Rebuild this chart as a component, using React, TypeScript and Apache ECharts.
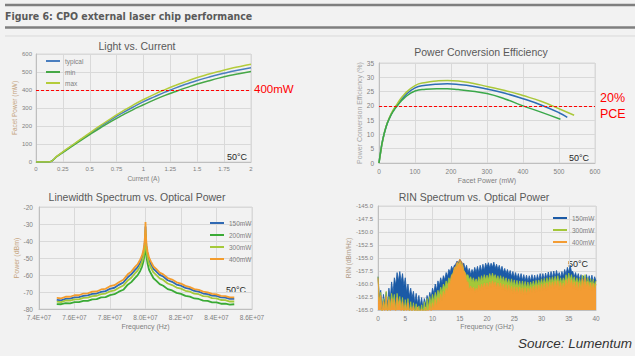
import React, { useEffect, useRef } from 'react';
import * as echarts from 'echarts';

// ---------- Light vs. Current ----------
const LI_CURRENT = [0, 0.05, 0.1, 0.12, 0.2, 0.3, 0.4, 0.5, 0.6, 0.7, 0.8, 0.9, 1.0, 1.1, 1.2, 1.3, 1.4, 1.5, 1.6, 1.7, 1.8, 1.9, 2.0];
const LI_TYPICAL = [0, 0, 0, 0, 34, 76, 117, 158, 198, 236, 271, 304, 335, 362, 388, 412, 433, 453, 470, 486, 500, 513, 524];
const LI_MIN = [0, 0, 0, 0, 33, 73, 113, 152, 190, 226, 259, 290, 318, 345, 370, 392, 413, 433, 450, 466, 480, 492, 503];
const LI_MAX = [0, 0, 0, 0, 35, 78, 120, 162, 203, 243, 280, 315, 347, 376, 402, 426, 448, 469, 487, 503, 518, 531, 543];

// ---------- Power Conversion Efficiency ----------
const PCE_TYP_P = [0, 5, 10, 20, 30, 40, 50, 70, 100, 130, 160, 190, 220, 260, 300, 350, 400, 450, 500, 523];
const PCE_TYP_E = [0, 4.2, 7.8, 12.8, 16.0, 18.4, 20.2, 23.3, 26.3, 27.2, 27.6, 27.7, 27.5, 26.9, 25.9, 24.4, 22.5, 20.3, 17.6, 16.0];
const PCE_MAX_P = [0, 5, 10, 20, 30, 40, 50, 70, 100, 130, 160, 190, 220, 260, 300, 350, 400, 450, 500, 542];
const PCE_MAX_E = [0, 4.1, 7.7, 12.9, 16.2, 18.7, 20.6, 24.0, 27.1, 28.2, 28.7, 28.9, 28.7, 27.9, 26.8, 25.4, 23.6, 21.6, 19.0, 16.7];
const PCE_MIN_P = [0, 5, 10, 20, 30, 40, 50, 70, 100, 130, 160, 190, 220, 260, 300, 350, 400, 450, 504];
const PCE_MIN_E = [0, 4.3, 7.9, 12.8, 15.9, 18.2, 19.9, 22.7, 25.2, 25.8, 26.0, 26.0, 25.7, 25.1, 24.3, 22.4, 20.0, 17.8, 15.3];

// ---------- Linewidth spectrum ----------
const LW_FREQ_MHZ = [75, 75.25, 75.5, 75.75, 76, 76.25, 76.5, 76.75, 77, 77.25, 77.5, 77.75, 78, 78.25, 78.5, 78.75,
  79, 79.2, 79.4, 79.55, 79.7, 79.8, 79.88, 79.94, 79.97, 79.99,
  80,
  80.01, 80.03, 80.06, 80.12, 80.2, 80.3, 80.45, 80.6, 80.8,
  81, 81.25, 81.5, 81.75, 82, 82.25, 82.5, 82.75, 83, 83.25, 83.5, 83.75, 84, 84.25, 84.5, 84.75, 85];
const LW_150 = [-74.6, -74.9, -74.0, -73.9, -73.2, -73.0, -72.3, -72.0, -71.1, -70.9, -69.9, -69.5, -68.1, -67.5, -65.8, -64.4,
  -61.3, -59.6, -57.1, -55.5, -52.8, -50.4, -47.4, -43.5, -39.4, -35.2,
  -31.5,
  -35.6, -40.2, -44.4, -48.0, -51.4, -53.5, -56.4, -57.8, -59.9,
  -60.9, -63.1, -64.0, -65.6, -66.3, -67.6, -68.2, -69.4, -69.8, -70.9, -71.2, -72.1, -72.3, -73.2, -73.3, -74.1, -74.0];
const LW_200 = [-77.1, -77.2, -76.6, -76.7, -76.0, -76.0, -75.2, -75.2, -74.3, -74.2, -73.2, -73.0, -71.8, -71.3, -69.8, -68.7,
  -65.7, -64.2, -61.8, -60.2, -57.6, -55.2, -52.2, -48.3, -44.0, -39.6,
  -36.0,
  -40.4, -45.2, -49.6, -53.4, -56.9, -59.0, -61.9, -63.3, -65.4,
  -66.3, -68.3, -69.1, -70.5, -71.1, -72.3, -72.7, -73.8, -74.1, -75.1, -75.2, -76.1, -76.1, -76.9, -76.8, -77.4, -77.2];
const LW_300 = [-75.6, -75.9, -75.0, -75.1, -74.3, -74.3, -73.4, -73.3, -72.4, -72.2, -71.2, -70.9, -69.6, -69.1, -67.5, -66.2,
  -63.2, -61.6, -59.1, -57.5, -54.8, -52.4, -49.4, -45.5, -41.3, -37.0,
  -33.5,
  -37.5, -42.2, -46.5, -50.1, -53.5, -55.6, -58.5, -59.9, -62.0,
  -62.9, -65.0, -65.9, -67.4, -68.0, -69.3, -69.8, -71.0, -71.3, -72.4, -72.6, -73.6, -73.8, -74.7, -74.8, -75.6, -75.6];
const LW_400 = [-73.5, -73.7, -72.8, -72.8, -71.9, -71.9, -70.9, -70.8, -69.8, -69.7, -68.5, -68.1, -66.6, -66.0, -64.3, -62.8,
  -59.6, -58.0, -55.4, -53.8, -51.0, -48.6, -45.6, -41.6, -37.2, -33.0,
  -28.8,
  -33.2, -38.2, -42.6, -46.4, -49.8, -52.0, -55.0, -56.4, -58.6,
  -59.6, -61.8, -62.7, -64.3, -65.1, -66.4, -67.1, -68.3, -68.8, -69.8, -70.2, -71.1, -71.4, -72.3, -72.4, -73.2, -73.2];

// ---------- RIN spectrum (sampled every 0.25 GHz from 0 to 40 GHz) ----------
const RIN_STEP_GHZ = 0.25;
const RIN_150 = [
  -158.6, -162.5, -161.2, -164.8, -162.0, -163.8, -161.6, -164.0, -160.8,
  -162.8, -159.6, -161.8, -158.8, -160.2, -157.8, -159.4, -157.6,
  -159.6, -158.0, -160.4, -158.8, -161.6, -160.0, -162.4, -160.8,
  -162.6, -161.4, -163.6, -161.8, -163.8, -162.2, -164.2, -162.6,
  -164.6, -162.8, -164.0, -162.2, -163.4, -161.6, -162.6, -160.8,
  -161.8, -160.0, -161.2, -159.4, -160.4, -158.8, -159.8, -158.4,
  -159.2, -157.8, -158.6, -157.2, -157.8, -156.6, -157.2, -156.4,
  -156.2, -155.6, -156.0, -155.3, -155.6, -156.2, -156.0, -157.2,
  -156.4, -157.8, -157.0, -158.2, -157.2, -158.0, -156.8, -157.8,
  -156.6, -157.8, -156.4, -157.6, -156.2, -157.4, -156.0, -156.8,
  -155.9, -156.9, -156.0, -156.8, -155.8, -157.0, -156.2, -157.2,
  -156.4, -157.6, -156.6, -157.8, -157.0, -158.0, -157.2, -158.2,
  -157.4, -158.6, -157.6, -158.8, -157.8, -159.0, -158.0, -159.2,
  -158.0, -159.3, -158.2, -159.4, -158.3, -159.5, -158.4, -159.4,
  -158.2, -159.4, -158.3, -159.5, -158.2, -159.3, -158.0, -159.2,
  -158.0, -159.2, -157.9, -159.0, -157.7, -158.9, -157.6, -158.8,
  -157.5, -158.7, -157.4, -158.5, -157.8, -158.8, -157.6, -158.6,
  -157.2, -158.2, -156.8, -157.8, -156.4, -157.6, -157.6, -158.6,
  -157.8, -158.9, -158.0, -159.2, -158.2, -159.4, -158.4, -159.6,
  -158.2, -159.4, -158.4, -159.6, -158.3, -159.7, -158.6, -159.4,
];
const RIN_300 = [
  -158.6, -163.2, -161.6, -165.5, -162.8, -164.6, -161.4, -165.5, -162.4,
  -164.2, -161.8, -163.6, -162.0, -165.0, -161.8, -163.8, -162.4,
  -164.6, -162.6, -165.5, -163.0, -164.8, -162.8, -165.5, -163.4,
  -165.5, -163.6, -165.5, -163.8, -165.5, -164.2, -165.5, -164.0,
  -165.5, -163.4, -165.5, -162.8, -164.6, -162.4, -163.8, -162.0,
  -163.4, -161.6, -162.8, -161.2, -162.2, -160.6, -161.6, -160.0,
  -160.8, -159.4, -160.2, -158.8, -159.4, -158.2, -158.0, -157.2,
  -156.8, -156.4, -156.0, -155.8, -156.2, -156.6, -157.4, -157.8,
  -158.4, -158.2, -159.2, -158.6, -159.6, -158.8, -159.8, -159.0,
  -159.8, -158.6, -159.6, -158.4, -159.4, -158.2, -159.2, -158.3,
  -159.2, -158.0, -159.0, -157.9, -158.9, -158.2, -159.2, -158.4,
  -159.4, -158.4, -159.6, -158.6, -159.8, -158.8, -160.0, -159.0,
  -160.2, -159.0, -160.4, -159.2, -160.5, -159.3, -160.6, -159.4,
  -160.7, -159.4, -160.8, -159.5, -160.8, -159.6, -160.8, -159.6,
  -160.6, -159.4, -160.5, -159.3, -160.4, -159.2, -160.3, -159.0,
  -160.2, -158.9, -160.0, -158.8, -159.9, -158.7, -159.8, -158.6,
  -159.7, -158.5, -159.6, -158.4, -159.8, -158.8, -159.9, -158.8,
  -159.6, -158.2, -159.4, -157.9, -159.2, -158.2, -159.6, -158.6,
  -159.8, -158.8, -160.0, -158.9, -160.2, -158.3, -160.1, -158.2,
  -159.9, -158.8, -160.1, -159.0, -160.2, -159.1, -160.3, -159.4,
];
const RIN_400 = [
  -158.9, -163.8, -162.2, -165.5, -163.4, -165.5, -162.4, -165.5, -163.0,
  -165.5, -162.8, -164.8, -163.0, -165.5, -162.6, -164.6, -163.2,
  -165.5, -163.4, -165.5, -164.0, -165.5, -163.6, -165.5, -164.4,
  -165.5, -164.2, -165.5, -165.5, -164.4, -165.5, -165.5, -164.8,
  -165.5, -165.5, -164.4, -165.5, -165.5, -163.8, -165.5, -163.6,
  -164.8, -163.0, -164.4, -162.6, -163.8, -162.0, -163.2, -161.4,
  -162.4, -160.8, -161.6, -159.8, -160.0, -158.4, -158.2, -156.8,
  -156.7, -155.8, -155.8, -155.2, -155.6, -156.0, -157.4, -158.0,
  -159.6, -159.6, -161.2, -160.4, -161.2, -160.6, -161.6, -160.8,
  -161.4, -160.2, -161.2, -160.0, -161.0, -159.8, -160.8, -159.8,
  -160.8, -159.6, -160.6, -159.4, -160.4, -159.6, -160.8, -159.8,
  -160.9, -159.8, -161.1, -160.0, -161.3, -160.1, -161.5, -160.2,
  -161.6, -160.4, -161.8, -160.5, -161.8, -160.6, -161.9, -160.6,
  -161.9, -160.7, -162.0, -160.7, -162.0, -160.8, -161.8, -160.6,
  -161.7, -160.4, -161.6, -160.3, -161.5, -160.2, -161.4, -160.0,
  -161.3, -159.9, -161.2, -159.8, -161.0, -159.7, -160.9, -159.6,
  -160.8, -159.5, -160.7, -159.4, -161.0, -159.7, -161.1, -159.8,
  -160.8, -159.2, -160.6, -158.9, -160.4, -159.2, -160.8, -159.6,
  -161.0, -159.6, -161.2, -159.8, -161.3, -159.0, -160.8, -158.9,
  -160.8, -159.6, -161.0, -159.8, -161.2, -159.9, -161.2, -160.0,
];

const FONT = 'Liberation Sans, Arial, sans-serif';
const GRAY = '#7f7f7f';
const TAN = '#c4a27c';
const GRID_LINE = '#d9d9d9';
const BG = '#f2f2f2';

function pairs(xs: number[], ys: number[]) {
  return xs.map((x, i) => [x, ys[i]]);
}

function axisBase(idx: number) {
  return {
    gridIndex: idx,
    type: 'value' as const,
    axisLine: { show: true, lineStyle: { color: '#bfbfbf', width: 1 } },
    axisTick: { show: false },
    splitLine: { show: true, lineStyle: { color: GRID_LINE, width: 1 } },
    axisLabel: { color: GRAY, fontSize: 6, fontFamily: FONT, margin: 4 },
    nameTextStyle: { color: GRAY, fontSize: 6.5, fontFamily: FONT },
    nameLocation: 'middle' as const,
  };
}

export default function App() {
  const ref = useRef<HTMLDivElement>(null);
  useEffect(() => {
    if (!ref.current) return;
    const chart = echarts.init(ref.current, undefined, { renderer: 'svg' });
    const rinFreq = RIN_150.map((_, i) => i * RIN_STEP_GHZ);
    const lwFreq = LW_FREQ_MHZ.map((f) => f * 1e6);

    const lineS = (name: string, color: string, xi: number, data: number[][], width = 1.5, smooth = true) => ({
      name, type: 'line', xAxisIndex: xi, yAxisIndex: xi, data, smooth,
      symbol: 'none', color, lineStyle: { color, width }, silent: true,
    });
    const areaS = (name: string, color: string, data: number[][]) => ({
      name, type: 'line', xAxisIndex: 3, yAxisIndex: 3, data, smooth: false,
      symbol: 'none', color, lineStyle: { color, width: 0.8 },
      areaStyle: { color, opacity: 1, origin: 'start' }, silent: true,
    });

    const title = (text: string, x: number, y: number) => ({
      type: 'text', x, y,
      style: { text, fill: '#595959', fontSize: 10.5, fontFamily: FONT, align: 'center', verticalAlign: 'middle' },
    });
    const tag = (text: string, x: number, y: number) => ({
      type: 'text', x, y,
      style: { text, fill: '#262626', fontSize: 9, fontFamily: FONT, align: 'right', verticalAlign: 'middle' },
    });
    const red = (text: string, x: number, y: number, size: number) => ({
      type: 'text', x, y,
      style: { text, fill: '#ff0000', fontSize: size, fontFamily: FONT, align: 'left', verticalAlign: 'middle' },
    });
    const hline = (y: number, w: number, color: string) => ({
      type: 'line', shape: { x1: 5, y1: y, x2: 635, y2: y }, style: { stroke: color, lineWidth: w },
    });

    const legendBase = {
      orient: 'vertical' as const,
      icon: 'rect',
      itemWidth: 14,
      itemHeight: 2,
      textStyle: { color: GRAY, fontSize: 6.5, fontFamily: FONT, lineHeight: 8 },
      selectedMode: false,
    };

    chart.setOption({
      animation: false,
      backgroundColor: BG,
      textStyle: { fontFamily: FONT },
      grid: [
        { left: 36, top: 54, width: 215, height: 108, show: true, borderColor: GRID_LINE, borderWidth: 1 },
        { left: 379, top: 63, width: 216, height: 100, show: true, borderColor: GRID_LINE, borderWidth: 1 },
        { left: 39, top: 207, width: 213, height: 102, show: true, borderColor: GRID_LINE, borderWidth: 1 },
        { left: 378, top: 206, width: 218, height: 104, show: true, borderColor: GRID_LINE, borderWidth: 1 },
      ],
      xAxis: [
        { ...axisBase(0), min: 0, max: 2, interval: 0.25, name: 'Current (A)', nameGap: 13 },
        { ...axisBase(1), min: 0, max: 600, interval: 100, name: 'Facet Power (mW)', nameGap: 14,
          axisLabel: { color: GRAY, fontSize: 6.5, fontFamily: FONT, margin: 5 },
          nameTextStyle: { color: GRAY, fontSize: 7, fontFamily: FONT } },
        { ...axisBase(2), min: 74e6, max: 86e6, interval: 2e6, name: 'Frequency (Hz)', nameGap: 14,
          axisLabel: { color: GRAY, fontSize: 6.5, fontFamily: FONT, margin: 5,
            formatter: (v: number) => (v / 1e7).toFixed(1) + 'E+07' },
          nameTextStyle: { color: GRAY, fontSize: 7, fontFamily: FONT } },
        { ...axisBase(3), min: 0, max: 40, interval: 5, name: 'Frequency (GHz)', nameGap: 13,
          axisLabel: { color: GRAY, fontSize: 6.5, fontFamily: FONT, margin: 5 },
          nameTextStyle: { color: GRAY, fontSize: 7, fontFamily: FONT } },
      ],
      yAxis: [
        { ...axisBase(0), min: 0, max: 600, interval: 100, name: 'Facet Power (mW)', nameGap: 18,
          nameTextStyle: { color: TAN, fontSize: 6.5, fontFamily: FONT } },
        { ...axisBase(1), min: 0, max: 35, interval: 5, name: 'Power Conversion Efficiency (%)', nameGap: 15,
          axisLabel: { color: GRAY, fontSize: 6.5, fontFamily: FONT, margin: 5 },
          nameTextStyle: { color: '#a6a6a6', fontSize: 7, fontFamily: FONT } },
        { ...axisBase(2), min: -80, max: -20, interval: 10, name: 'Power (dBm)', nameGap: 17,
          axisLabel: { color: GRAY, fontSize: 6.5, fontFamily: FONT, margin: 6 },
          nameTextStyle: { color: TAN, fontSize: 7, fontFamily: FONT } },
        { ...axisBase(3), min: -165, max: -145, interval: 2.5, name: 'RIN (dBm/Hz)', nameGap: 23,
          axisLabel: { color: GRAY, fontSize: 6, fontFamily: FONT, margin: 5,
            formatter: (v: number) => v.toFixed(1) },
          nameTextStyle: { color: '#b09a86', fontSize: 6.5, fontFamily: FONT } },
      ],
      legend: [
        { ...legendBase, left: 41, top: 52, itemGap: 3, data: ['typical', 'min', 'max'] },
        { ...legendBase, left: 205, top: 214, itemGap: 4, data: ['150mW', '200mW', '300mW', '400mW'] },
        { ...legendBase, left: 548, top: 209, itemGap: 4, data: ['150mW ', '300mW ', '400mW '] },
      ],
      series: [
        {
          ...lineS('typical', '#4a7ebf', 0, pairs(LI_CURRENT, LI_TYPICAL)),
          markLine: {
            silent: true, symbol: 'none', label: { show: false },
            lineStyle: { color: '#ff0000', type: [3, 2], width: 1 },
            data: [{ yAxis: 400 }],
          },
        },
        lineS('min', '#46a847', 0, pairs(LI_CURRENT, LI_MIN)),
        lineS('max', '#b4cc3a', 0, pairs(LI_CURRENT, LI_MAX)),
        {
          ...lineS('pce-typical', '#2e6db4', 1, pairs(PCE_TYP_P, PCE_TYP_E)),
          markLine: {
            silent: true, symbol: 'none', label: { show: false },
            lineStyle: { color: '#ff0000', type: [3, 2], width: 1 },
            data: [{ yAxis: 20 }],
          },
        },
        lineS('pce-max', '#aac83a', 1, pairs(PCE_MAX_P, PCE_MAX_E)),
        lineS('pce-min', '#3aa84a', 1, pairs(PCE_MIN_P, PCE_MIN_E)),
        lineS('150mW', '#2f69b3', 2, pairs(lwFreq, LW_150), 1.8, false),
        lineS('200mW', '#3aaa35', 2, pairs(lwFreq, LW_200), 1.8, false),
        lineS('300mW', '#a5c939', 2, pairs(lwFreq, LW_300), 1.8, false),
        lineS('400mW', '#f39c2d', 2, pairs(lwFreq, LW_400), 1.8, false),
        areaS('150mW ', '#1b5aa6', pairs(rinFreq, RIN_150)),
        areaS('300mW ', '#a4c739', pairs(rinFreq, RIN_300)),
        areaS('400mW ', '#f39c33', pairs(rinFreq, RIN_400)),
      ],
      graphic: [
        hline(5, 2.5, '#7f7f7f'),
        hline(27.5, 2.5, '#7f7f7f'),
        hline(36, 1, '#d9d9d9'),
        {
          type: 'text', x: 5, y: 16,
          style: { text: 'Figure 6: CPO external laser chip performance', fill: '#5a5a5a',
            fontSize: 10.5, fontWeight: 'bold', fontFamily: 'Liberation Sans Narrow, DejaVu Sans Condensed, Arial, sans-serif',
            align: 'left', verticalAlign: 'middle' },
        },
        title('Light vs. Current', 137, 46),
        title('Power Conversion Efficiency', 481, 52),
        title('Linewidth Spectrum vs. Optical Power', 137, 197),
        title('RIN Spectrum vs. Optical Power', 474, 197),
        tag('50°C', 247, 157),
        tag('50°C', 589, 158),
        tag('50°C', 246, 290),
        tag('50°C', 588, 264),
        red('400mW', 254, 89, 11.5),
        red('20%', 600, 98, 12.5),
        red('PCE', 600, 114, 12.5),
        {
          type: 'text', x: 632, y: 343,
          style: { text: 'Source: Lumentum', fill: '#333333', fontSize: 13.5, fontStyle: 'italic', fontFamily: FONT,
            align: 'right', verticalAlign: 'middle' },
        },
      ],
    });
    return () => chart.dispose();
  }, []);
  return (
    <div
      ref={ref}
      style={{ position: 'fixed', left: 0, top: 0, width: 635, height: 356, background: BG }}
    />
  );
}
